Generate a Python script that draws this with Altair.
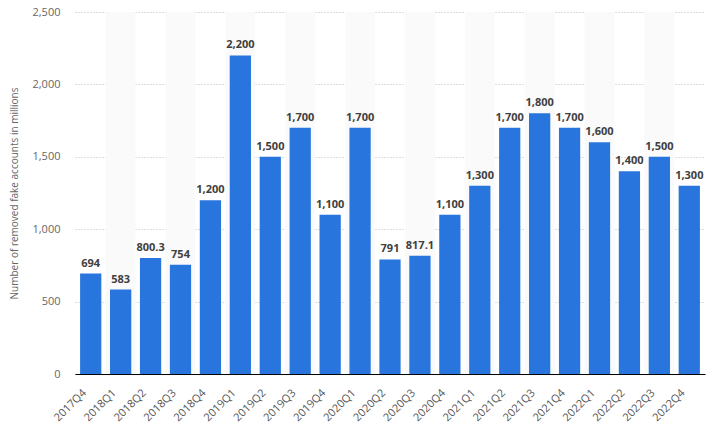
import altair as alt
import pandas as pd

quarters = ["2017Q4","2018Q1","2018Q2","2018Q3","2018Q4","2019Q1","2019Q2","2019Q3","2019Q4",
            "2020Q1","2020Q2","2020Q3","2020Q4","2021Q1","2021Q2","2021Q3","2021Q4",
            "2022Q1","2022Q2","2022Q3","2022Q4"]
values = [694,583,800.3,754,1200,2200,1500,1700,1100,1700,791,817.1,1100,1300,1700,1800,1700,1600,1400,1500,1300]
labels = ["694","583","800.3","754","1,200","2,200","1,500","1,700","1,100","1,700","791","817.1",
          "1,100","1,300","1,700","1,800","1,700","1,600","1,400","1,500","1,300"]
striped = quarters[1::2]

df = pd.DataFrame({"q": quarters, "v": values, "lab": labels})
stripes = pd.DataFrame({"q": striped})

x = alt.X("q:N", sort=quarters, title=None,
          scale=alt.Scale(domain=quarters, paddingInner=0.29, paddingOuter=0.17),
          axis=alt.Axis(labelAngle=315, labelAlign="right", labelBaseline="middle",
                        labelFontSize=11, labelColor="#555", labelFont="Open Sans",
                        ticks=False, domain=True, domainColor="#000", domainWidth=1.2,
                        labelPadding=17, labelOffset=-6))
y = alt.Y("v:Q", title="Number of removed fake accounts in millions",
          scale=alt.Scale(domain=[0, 2500]),
          axis=alt.Axis(values=[0,500,1000,1500,2000,2500], format=",.0f",
                        labelFontSize=11, labelColor="#666", labelFont="Open Sans",
                        titleFontSize=10, titleColor="#666", titleFont="Open Sans",
                        titleFontWeight="normal", titlePadding=12,
                        grid=True, gridDash=[1, 2], gridColor="#bbb",
                        ticks=False, domain=False, labelPadding=15))

bg = alt.Chart(stripes).mark_bar(color="#fafafa", width=alt.RelativeBandSize(1.4)).encode(
    x=x, y=alt.value(0), y2=alt.value({"expr": "height"}))
bars = alt.Chart(df).mark_bar(color="#2876dd").encode(x=x, y=y)
text = alt.Chart(df).mark_text(dy=-10, fontWeight="bold", fontSize=11, color="#404040",
                               font="Open Sans").encode(x=x, y=y, text="lab:N")

chart = (bg + bars + text).properties(
    width=630, height=362,
    autosize=alt.AutoSizeParams(type="none"),
    padding={"left": 75, "top": 12, "right": 8, "bottom": 54},
).configure_view(stroke=None)

chart.save("out.html", embed_options={"renderer": "svg", "actions": False})
